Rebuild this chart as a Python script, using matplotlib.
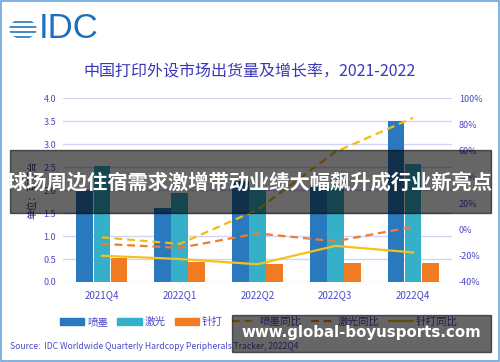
import matplotlib
matplotlib.use("Agg")
import matplotlib.pyplot as plt
from matplotlib.patches import Rectangle, Circle, Patch
from matplotlib.lines import Line2D
import numpy as np

plt.rcParams['font.family'] = ['Noto Sans CJK SC', 'DejaVu Sans']

# data
quarters = ['2021Q4', '2022Q1', '2022Q2', '2022Q3', '2022Q4']
inkjet = [2.0, 1.6, 2.2, 2.1, 3.5]
laser = [2.52, 1.93, 2.05, 2.05, 2.57]
dot_matrix = [0.52, 0.44, 0.39, 0.42, 0.42]
inkjet_yoy = [-6, -11, 15, 59, 85]
laser_yoy = [-11, -14, -3, -9, 2]
dot_yoy = [-20, -22.5, -26.5, -12.5, -17.5]

c_ink = '#2a78bd'
c_laser = '#36afc9'
c_dot = '#f07b22'
c_ink_yoy = '#f4bb12'
c_laser_yoy = '#ee7d31'
c_dot_yoy = '#f5c21a'
c_text = '#4a4ac8'
c_grid = '#d2d2fa'

fig = plt.figure(figsize=(5, 3.62), dpi=100)
ax = fig.add_axes([0.126, 0.221, 0.778, 0.508])
ax2 = ax.twinx()

x = np.arange(len(quarters))
w = 0.215
ax.bar(x - 0.22, inkjet, w, color=c_ink, zorder=2)
ax.bar(x, laser, w, color=c_laser, zorder=2)
ax.bar(x + 0.22, dot_matrix, w, color=c_dot, zorder=2)

ax2.plot(x, inkjet_yoy, color=c_ink_yoy, lw=1.6, ls=(0, (3.5, 2.2)))
ax2.plot(x, laser_yoy, color=c_laser_yoy, lw=1.6, ls=(0, (3.5, 2.2)))
ax2.plot(x, dot_yoy, color=c_dot_yoy, lw=1.6)

ax.set_xlim(-0.5, 4.5)
ax.set_ylim(0, 4)
ax.set_yticks(np.arange(0, 4.01, 0.5))
ax.set_yticklabels(['%.1f' % v for v in np.arange(0, 4.01, 0.5)])
ax.yaxis.grid(True, color=c_grid, lw=1)
ax.set_axisbelow(True)
ax.set_xticks(x)
ax.set_xticklabels(quarters)
ax.set_ylabel('单位：百万台', color='#2a2a80', fontsize=7, labelpad=4)

ax2.set_ylim(-40, 100)
ax2.set_yticks(range(-40, 101, 20))
ax2.set_yticklabels(['%d%%' % v for v in range(-40, 101, 20)])

for a in (ax, ax2):
    for s in a.spines.values():
        s.set_visible(False)
    a.tick_params(length=0, labelsize=6.5, labelcolor=c_text, pad=5)
ax.tick_params(axis='x', labelsize=7, pad=6)

fig.text(0.5, 0.8, '中国打印外设市场出货量及增长率，2021-2022',
         ha='center', va='center', fontsize=11.5, color='#3838b8')

handles = [Patch(color=c_ink), Patch(color=c_laser), Patch(color=c_dot),
           Line2D([], [], color=c_ink_yoy, lw=1.6, ls=(0, (3.5, 2.2))),
           Line2D([], [], color=c_laser_yoy, lw=1.6, ls=(0, (3.5, 2.2))),
           Line2D([], [], color=c_dot_yoy, lw=1.6)]
labels = ['喷墨', '激光', '针打', '喷墨同比', '激光同比', '针打同比']
leg = fig.legend(handles, labels, loc='center', bbox_to_anchor=(0.518, 0.111),
                 ncol=6, frameon=False, fontsize=7.6, handlelength=2.3,
                 handleheight=0.6, handletextpad=0.25, columnspacing=0.9)
for t in leg.get_texts():
    t.set_color(c_text)

fig.text(0.02, 0.044, 'Source:  IDC Worldwide Quarterly Hardcopy Peripherals Tracker, 2022Q4',
         fontsize=6.2, color=c_text, va='center')

# IDC logo
globe = Circle((23 / 500, 1 - 29 / 362), 13 / 500, transform=fig.transFigure,
               color='#1f6fbf', zorder=3)
fig.patches.append(globe)
for yy in [20, 25, 30, 35, 40]:
    fig.patches.append(Rectangle((8 / 500, 1 - yy / 362), 30 / 500, 1.6 / 362,
                                 transform=fig.transFigure, color='white', zorder=4))
fig.text(39 / 500, 1 - 29 / 362, 'IDC', fontsize=25, color='#1f6fbf',
         family='Liberation Sans', va='center', ha='left')

# border
fig.patches.append(Rectangle((0.002, 0.003), 0.996, 0.994, transform=fig.transFigure,
                             fill=False, edgecolor='#6aa6dc', lw=1.2, zorder=20))

# overlay banner
fig.patches.append(Rectangle((10 / 500, 1 - 213 / 362), 481 / 500, 63 / 362,
                             transform=fig.transFigure, color='black', alpha=0.6, zorder=10))
fig.text(250 / 500, 1 - 183 / 362, '球场周边住宿需求激增带动业绩大幅飙升成行业新亮点',
         ha='center', va='center', fontsize=14.6, color='white', weight='bold', zorder=11)

# watermark
fig.patches.append(Rectangle((232 / 500, 1 - 352 / 362), 259 / 500, 37 / 362,
                             transform=fig.transFigure, color='black', alpha=0.6, zorder=10))
fig.text(361 / 500, 1 - 333 / 362, 'www.global-boyusports.com', ha='center', va='center',
         fontsize=10.8, color='white', weight='bold', family='DejaVu Sans', zorder=11)

fig.savefig('out.png', dpi=100)
